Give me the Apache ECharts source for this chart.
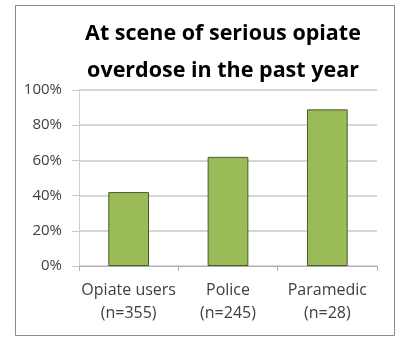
<!DOCTYPE html>
<html><head><meta charset="utf-8">
<script src="https://cdn.jsdelivr.net/npm/echarts@6/dist/echarts.min.js"></script>
<style>html,body{margin:0;padding:0;background:#fff}#c{width:403px;height:337px}</style>
</head><body><div id="c"></div>
<script>
const categories = ['Opiate users\n(n=355)', 'Police\n(n=245)', 'Paramedic\n(n=28)'];
const values = [42, 62, 89];
const titleText = 'At scene of serious opiate\noverdose in the past year';

const chart = echarts.init(document.getElementById('c'), null, {renderer: 'canvas'});
chart.setOption({
  animation: false,
  backgroundColor: '#fff',
  graphic: [{
    type: 'rect', shape: {x: 15.5, y: 5.5, width: 379, height: 330},
    style: {fill: 'none', stroke: '#8a8a8a', lineWidth: 1}
  }],
  title: {
    text: titleText, left: 218, top: 10, textAlign: 'center',
    textStyle: {fontFamily: 'Open Sans', fontWeight: 'bold', fontSize: 21.5, lineHeight: 37, color: '#000'}
  },
  grid: {left: 79, right: 26, top: 90, bottom: 71, containLabel: false},
  xAxis: {
    type: 'category', data: categories,
    axisLine: {lineStyle: {color: '#b0b0b0', width: 1}},
    axisTick: {show: true, length: 5, lineStyle: {color: '#b0b0b0'}},
    axisLabel: {interval: 0, fontFamily: 'Open Sans', fontSize: 16, color: '#404040', lineHeight: 23, margin: 13}
  },
  yAxis: {
    type: 'value', min: 0, max: 100, interval: 20,
    axisLine: {show: true, lineStyle: {color: '#d0d0d0'}},
    axisTick: {show: true, length: 7, lineStyle: {color: '#c8c8c8'}},
    splitLine: {lineStyle: {color: '#c8c8c8', width: 1.5}},
    axisLabel: {formatter: '{value}%', fontFamily: 'Open Sans', fontSize: 15, color: '#404040', margin: 17}
  },
  series: [{
    type: 'bar', data: values, barWidth: '41%',
    itemStyle: {color: '#9bbb59', borderColor: '#4a5a2a', borderWidth: 1}
  }]
});
</script></body></html>
